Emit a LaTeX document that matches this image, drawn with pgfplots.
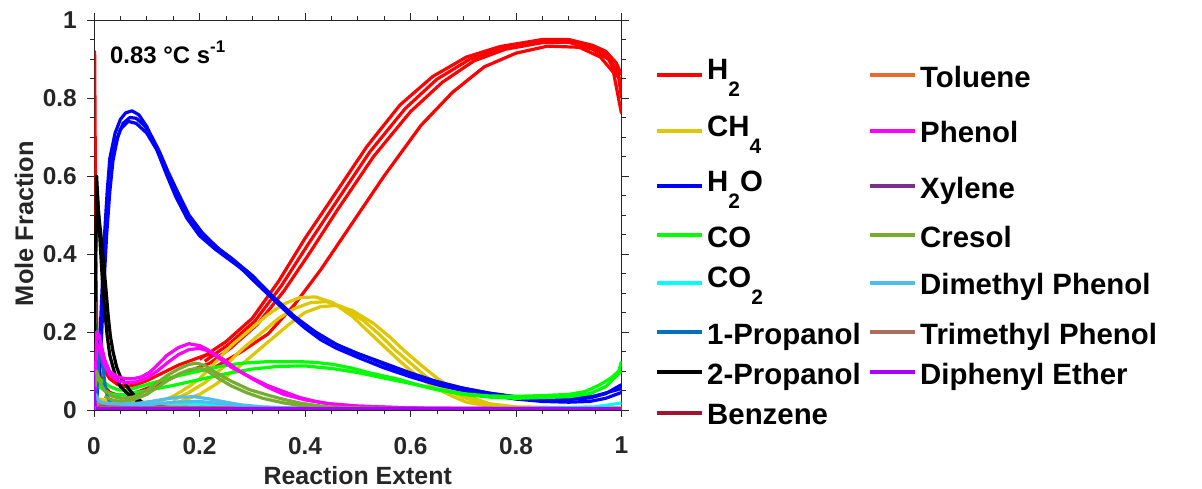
\documentclass[border=0pt]{standalone}
\usepackage{pgfplots}
\pgfplotsset{compat=1.18}
\usepackage{fontspec}
\setmainfont{Liberation Sans}
\definecolor{cH2}{RGB}{255,0,0}
\definecolor{cCH4}{RGB}{222,198,0}
\definecolor{cH2O}{RGB}{0,0,255}
\definecolor{cCO}{RGB}{0,255,0}
\definecolor{cCO2}{RGB}{0,255,255}
\definecolor{cOneP}{RGB}{0,114,189}
\definecolor{cTwoP}{RGB}{0,0,0}
\definecolor{cBenz}{RGB}{162,20,47}
\definecolor{cTol}{RGB}{232,108,50}
\definecolor{cPhen}{RGB}{255,0,255}
\definecolor{cXyl}{RGB}{126,47,142}
\definecolor{cCres}{RGB}{119,172,48}
\definecolor{cDMP}{RGB}{77,190,238}
\definecolor{cTMP}{RGB}{170,110,90}
\definecolor{cDPE}{RGB}{170,0,255}
\definecolor{axgray}{RGB}{38,38,38}
\newcommand{\sub}[1]{\raisebox{-16.5bp}{\fontsize{21}{21}\selectfont #1}}
\begin{document}
\begin{tikzpicture}
\useasboundingbox (0,0) rectangle (1202bp,489bp);
\begin{axis}[
  at={(94bp,79bp)}, anchor=south west,
  scale only axis, width=527.5bp, height=390bp,
  xmin=0, xmax=1, ymin=0, ymax=1,
  xtick={0,0.2,0.4,0.6,0.8,1}, xticklabels={0,0.2,0.4,0.6,0.8,1},
  ytick={0,0.2,0.4,0.6,0.8,1}, yticklabels={0,0.2,0.4,0.6,0.8,1},
  minor x tick num=3, minor y tick num=3,
  tick align=outside, major tick length=7bp, minor tick length=4bp,
  axis line style={axgray, line width=0.7bp},
  every tick/.style={axgray, line width=0.7bp},
  ticklabel style={font=\fontsize{24.5}{24.5}\selectfont\bfseries, text=axgray, inner sep=0pt},
  xticklabel style={anchor=north, yshift=-20bp},
  yticklabel style={anchor=east, xshift=-10bp},
  xlabel={Reaction Extent}, ylabel={Mole Fraction},
  xlabel style={font=\fontsize{25}{25}\selectfont\bfseries, text=axgray, at={(axis description cs:0.5,-0.192)}, anchor=base},
  ylabel style={font=\fontsize{25.5}{25.5}\selectfont\bfseries, text=axgray, at={(axis description cs:-0.1156,0.478)}, anchor=base},
  every axis plot/.append style={line width=3.2bp, line join=round, forget plot},
]
% ---------- H2 ----------
\addplot[cH2, line width=1.5bp] coordinates {(0.0015,0.25)(0.002,0.6)(0.0028,0.92)(0.0038,0.7)(0.005,0.4)(0.007,0.2)(0.01,0.13)};
\addplot[cH2] coordinates {(0.008,0.18)(0.012,0.13)(0.02,0.1)(0.03,0.08)(0.045,0.065)(0.06,0.06)(0.08,0.065)(0.1,0.075)(0.13,0.095)(0.16,0.115)(0.19,0.13)(0.21,0.14)(0.23,0.145)};
\addplot[cH2] coordinates {(0.008,0.12)(0.012,0.09)(0.02,0.06)(0.03,0.045)(0.045,0.038)(0.06,0.04)(0.08,0.045)(0.1,0.055)(0.13,0.07)(0.16,0.09)(0.19,0.105)(0.22,0.12)};
\addplot[cH2] coordinates {(0.2,0.13)(0.25,0.175)(0.3,0.235)(0.35,0.33)(0.4,0.44)(0.45,0.54)(0.517,0.675)(0.58,0.782)(0.642,0.855)(0.706,0.905)(0.77,0.932)(0.85,0.95)(0.9,0.95)(0.945,0.935)(0.97,0.92)(0.99,0.89)(1.0,0.86)};
\addplot[cH2] coordinates {(0.21,0.125)(0.255,0.168)(0.305,0.228)(0.355,0.318)(0.405,0.423)(0.455,0.525)(0.523,0.662)(0.59,0.773)(0.65,0.848)(0.713,0.9)(0.775,0.928)(0.85,0.946)(0.9,0.947)(0.945,0.93)(0.972,0.91)(0.992,0.87)(1.0,0.83)};
\addplot[cH2] coordinates {(0.22,0.12)(0.26,0.16)(0.31,0.22)(0.36,0.305)(0.41,0.405)(0.46,0.51)(0.53,0.65)(0.6,0.765)(0.66,0.84)(0.72,0.895)(0.78,0.925)(0.85,0.942)(0.9,0.943)(0.945,0.925)(0.975,0.9)(0.995,0.85)(1.0,0.8)};
\addplot[cH2] coordinates {(0.23,0.11)(0.28,0.15)(0.33,0.195)(0.38,0.27)(0.43,0.36)(0.48,0.46)(0.55,0.6)(0.62,0.73)(0.68,0.815)(0.74,0.88)(0.8,0.915)(0.86,0.933)(0.92,0.93)(0.96,0.905)(0.985,0.865)(1.0,0.76)};
% ---------- CH4 ----------
\addplot[cCH4] coordinates {(0,0.01)(0.003,0.05)(0.006,0.03)(0.02,0.025)(0.05,0.02)(0.1,0.02)(0.13,0.025)(0.15,0.035)(0.18,0.06)(0.2,0.08)(0.232,0.125)(0.26,0.165)(0.295,0.205)(0.33,0.245)(0.36,0.272)(0.39,0.288)(0.42,0.29)(0.453,0.275)(0.49,0.24)(0.517,0.205)(0.55,0.163)(0.58,0.125)(0.61,0.09)(0.642,0.06)(0.68,0.035)(0.706,0.02)(0.75,0.01)(0.8,0.006)(0.9,0.004)(1.0,0.006)};
\addplot[cCH4] coordinates {(0.15,0.025)(0.18,0.045)(0.21,0.07)(0.25,0.115)(0.28,0.155)(0.315,0.195)(0.35,0.235)(0.38,0.26)(0.41,0.275)(0.44,0.278)(0.47,0.265)(0.51,0.23)(0.54,0.195)(0.57,0.155)(0.6,0.12)(0.63,0.085)(0.66,0.057)(0.7,0.033)(0.73,0.018)(0.77,0.009)(0.82,0.005)(1,0.004)};
\addplot[cCH4] coordinates {(0.16,0.02)(0.2,0.04)(0.23,0.065)(0.27,0.105)(0.3,0.14)(0.335,0.18)(0.37,0.22)(0.4,0.25)(0.43,0.265)(0.46,0.268)(0.49,0.255)(0.53,0.222)(0.56,0.188)(0.59,0.15)(0.62,0.115)(0.65,0.082)(0.68,0.055)(0.72,0.03)(0.75,0.016)(0.8,0.008)(1,0.004)};
% ---------- H2O ----------
\addplot[cH2O] coordinates {(0.005,0.05)(0.01,0.15)(0.015,0.3)(0.02,0.45)(0.025,0.56)(0.03,0.645)(0.04,0.71)(0.05,0.745)(0.06,0.762)(0.072,0.767)(0.085,0.757)(0.1,0.727)(0.112,0.692)(0.125,0.647)(0.138,0.602)(0.155,0.547)(0.176,0.492)(0.2,0.447)(0.23,0.412)(0.26,0.382)(0.295,0.347)(0.327,0.302)(0.36,0.262)(0.39,0.227)(0.42,0.197)(0.453,0.172)(0.49,0.147)(0.517,0.135)(0.55,0.117)(0.58,0.1)(0.61,0.086)(0.642,0.073)(0.68,0.061)(0.706,0.054)(0.75,0.043)(0.8,0.033)(0.85,0.028)(0.9,0.027)(0.94,0.031)(0.97,0.042)(1.0,0.065)};
\addplot[cH2O] coordinates {(0.005,0.03)(0.012,0.12)(0.018,0.3)(0.024,0.45)(0.03,0.56)(0.036,0.64)(0.045,0.7)(0.055,0.735)(0.068,0.75)(0.08,0.748)(0.095,0.73)(0.11,0.7)(0.125,0.66)(0.14,0.612)(0.16,0.555)(0.18,0.5)(0.205,0.455)(0.235,0.415)(0.27,0.375)(0.3,0.335)(0.335,0.29)(0.37,0.245)(0.4,0.21)(0.43,0.18)(0.46,0.158)(0.5,0.135)(0.55,0.108)(0.6,0.085)(0.65,0.065)(0.7,0.05)(0.75,0.038)(0.8,0.028)(0.85,0.022)(0.9,0.02)(0.94,0.022)(0.97,0.03)(1.0,0.045)};
\addplot[cH2O] coordinates {(0.03,0.6)(0.04,0.68)(0.05,0.72)(0.065,0.74)(0.08,0.735)(0.1,0.71)(0.12,0.665)(0.14,0.6)(0.165,0.53)(0.19,0.47)(0.22,0.43)(0.26,0.39)(0.3,0.345)(0.34,0.29)(0.38,0.24)(0.42,0.2)(0.46,0.168)(0.5,0.145)(0.55,0.12)(0.6,0.095)(0.65,0.073)(0.7,0.056)(0.75,0.043)(0.8,0.034)(0.85,0.03)(0.9,0.03)(0.95,0.036)(1.0,0.055)};
% ---------- CO ----------
\addplot[cCO] coordinates {(0.001,0.02)(0.0025,0.22)(0.004,0.15)(0.006,0.1)(0.01,0.08)(0.02,0.07)(0.03,0.06)(0.045,0.052)(0.06,0.05)(0.1,0.065)(0.15,0.085)(0.2,0.1)(0.24,0.112)(0.28,0.12)(0.33,0.124)(0.39,0.124)(0.42,0.122)(0.453,0.117)(0.49,0.107)(0.517,0.097)(0.55,0.087)(0.58,0.078)(0.61,0.066)(0.642,0.056)(0.68,0.046)(0.706,0.041)(0.75,0.036)(0.8,0.035)(0.85,0.037)(0.9,0.04)(0.93,0.047)(0.958,0.064)(0.98,0.082)(0.995,0.1)(1.0,0.125)};
\addplot[cCO] coordinates {(0.006,0.07)(0.01,0.06)(0.02,0.05)(0.03,0.042)(0.045,0.038)(0.06,0.04)(0.1,0.05)(0.15,0.063)(0.2,0.078)(0.25,0.093)(0.3,0.105)(0.35,0.112)(0.4,0.113)(0.453,0.106)(0.5,0.096)(0.55,0.082)(0.6,0.068)(0.65,0.052)(0.7,0.04)(0.75,0.033)(0.8,0.03)(0.85,0.032)(0.9,0.034)(0.94,0.042)(0.97,0.06)(1.0,0.1)};
% ---------- CO2 ----------
\addplot[cCO2] coordinates {(0,0.01)(0.003,0.05)(0.006,0.02)(0.02,0.012)(0.05,0.01)(0.1,0.012)(0.15,0.016)(0.2,0.015)(0.25,0.011)(0.3,0.007)(0.4,0.004)(0.6,0.003)(0.8,0.004)(0.95,0.008)(1.0,0.018)};
% ---------- 1-Propanol ----------
\addplot[cOneP] coordinates {(0.004,0.02)(0.008,0.1)(0.011,0.17)(0.014,0.15)(0.018,0.1)(0.022,0.05)(0.03,0.02)(0.05,0.006)(0.1,0.002)(1,0.001)};
% ---------- 2-Propanol ----------
\addplot[cTwoP] coordinates {(0.001,0.1)(0.003,0.4)(0.006,0.55)(0.009,0.5)(0.013,0.45)(0.018,0.38)(0.022,0.32)(0.027,0.24)(0.031,0.19)(0.036,0.15)(0.043,0.11)(0.05,0.085)(0.06,0.065)(0.068,0.05)(0.08,0.032)(0.093,0.018)(0.11,0.01)(0.15,0.005)(0.2,0.002)(1,0.001)};
\addplot[cTwoP] coordinates {(0.002,0.3)(0.005,0.6)(0.008,0.52)(0.012,0.42)(0.016,0.33)(0.02,0.26)(0.025,0.19)(0.03,0.14)(0.04,0.09)(0.05,0.06)(0.065,0.04)(0.08,0.025)(0.1,0.012)(0.15,0.004)};
% ---------- Benzene ----------
\addplot[cBenz] coordinates {(0,0.002)(0.01,0.01)(0.05,0.005)(0.2,0.004)(0.5,0.002)(1,0.003)};
% ---------- Toluene ----------
\addplot[cTol] coordinates {(0,0.003)(0.01,0.02)(0.05,0.008)(0.15,0.008)(0.2,0.007)(0.3,0.005)(0.5,0.002)(1,0.002)};
% ---------- Phenol ----------
\addplot[cPhen] coordinates {(0.002,0.05)(0.005,0.2)(0.01,0.19)(0.015,0.16)(0.02,0.13)(0.03,0.098)(0.045,0.085)(0.06,0.08)(0.074,0.08)(0.09,0.085)(0.106,0.097)(0.12,0.115)(0.138,0.14)(0.16,0.16)(0.18,0.17)(0.2,0.165)(0.215,0.155)(0.232,0.138)(0.26,0.11)(0.295,0.085)(0.33,0.062)(0.358,0.048)(0.39,0.032)(0.42,0.022)(0.45,0.015)(0.5,0.01)(0.6,0.005)(0.8,0.003)(1,0.003)};
\addplot[cPhen] coordinates {(0.005,0.17)(0.01,0.16)(0.02,0.115)(0.03,0.09)(0.045,0.075)(0.06,0.07)(0.08,0.072)(0.1,0.082)(0.12,0.1)(0.14,0.122)(0.16,0.142)(0.18,0.155)(0.2,0.158)(0.22,0.15)(0.245,0.13)(0.27,0.105)(0.3,0.08)(0.33,0.058)(0.36,0.04)(0.4,0.026)(0.44,0.017)(0.5,0.01)(0.6,0.005)(1,0.003)};
% ---------- Xylene ----------
\addplot[cXyl] coordinates {(0,0.002)(0.01,0.005)(0.1,0.003)(1,0.002)};
% ---------- Cresol ----------
\addplot[cCres] coordinates {(0.002,0.06)(0.005,0.1)(0.01,0.075)(0.02,0.05)(0.035,0.035)(0.05,0.03)(0.074,0.033)(0.1,0.05)(0.12,0.07)(0.138,0.088)(0.16,0.105)(0.18,0.117)(0.195,0.12)(0.21,0.114)(0.232,0.095)(0.26,0.074)(0.295,0.052)(0.33,0.038)(0.36,0.027)(0.39,0.018)(0.42,0.012)(0.45,0.007)(0.6,0.003)(1,0.002)};
\addplot[cCres] coordinates {(0.02,0.035)(0.035,0.025)(0.05,0.022)(0.074,0.026)(0.1,0.04)(0.12,0.058)(0.14,0.076)(0.16,0.092)(0.18,0.103)(0.2,0.108)(0.215,0.1)(0.235,0.082)(0.26,0.062)(0.29,0.044)(0.32,0.03)(0.36,0.018)(0.4,0.01)(0.5,0.004)(1,0.002)};
% ---------- Dimethyl Phenol ----------
\addplot[cDMP] coordinates {(0,0.01)(0.003,0.04)(0.006,0.03)(0.01,0.022)(0.02,0.018)(0.05,0.015)(0.08,0.017)(0.1,0.02)(0.13,0.027)(0.16,0.033)(0.19,0.034)(0.22,0.028)(0.25,0.02)(0.28,0.013)(0.32,0.008)(0.4,0.004)(0.6,0.002)(1,0.002)};
\addplot[cDMP] coordinates {(0.05,0.01)(0.1,0.013)(0.15,0.02)(0.2,0.022)(0.25,0.015)(0.3,0.008)(0.4,0.003)};
% ---------- Trimethyl Phenol ----------
\addplot[cTMP] coordinates {(0,0.002)(0.01,0.008)(0.1,0.005)(0.2,0.005)(0.3,0.003)(1,0.002)};
% ---------- Diphenyl Ether ----------
\addplot[cDPE, line width=1.5bp] coordinates {(0.0005,0)(0.0008,0.1)(0.0015,0.05)(0.004,0.01)};
\addplot[cDPE, line width=4bp] coordinates {(0.004,0.004)(0.01,0.003)(0.05,0.003)(1,0.003)};
% ---------- annotation ----------
\node[anchor=base west, font=\fontsize{24}{24}\selectfont\bfseries, inner sep=0pt] at (axis description cs:0.0303,0.8897) {0.83 °C s\raisebox{0.42em}{\fontsize{17}{17}\selectfont -1}};
\end{axis}
% ---------- legend (picture coordinates in bp) ----------
\begin{scope}[every node/.style={anchor=base west, inner sep=0pt, font=\fontsize{29.5}{29.5}\selectfont\bfseries}]
\foreach \c/\y in {cH2/414, cCH4/358, cH2O/303, cCO/254, cCO2/206, cOneP/157, cTwoP/117, cBenz/76}
  {\draw[\c, line width=4bp] (657bp,\y bp) -- (702bp,\y bp);}
\foreach \c/\y in {cTol/414, cPhen/358, cXyl/303, cCres/254, cDMP/206, cTMP/157, cDPE/117}
  {\draw[\c, line width=4bp] (870bp,\y bp) -- (915bp,\y bp);}
\node at (707bp,409bp) {H\sub{2}};
\node at (707bp,352bp) {CH\sub{4}};
\node at (707bp,297bp) {H\sub{2}O};
\node at (707bp,241bp) {CO};
\node at (707bp,201bp) {CO\sub{2}};
\node at (707bp,144bp) {1-Propanol};
\node at (707bp,104bp) {2-Propanol};
\node at (707bp,64bp) {Benzene};
\node at (920bp,401bp) {Toluene};
\node at (920bp,346bp) {Phenol};
\node at (920bp,290bp) {Xylene};
\node at (920bp,241bp) {Cresol};
\node at (920bp,194bp) {Dimethyl Phenol};
\node at (920bp,144bp) {Trimethyl Phenol};
\node at (920bp,104bp) {Diphenyl Ether};
\end{scope}
\end{tikzpicture}
\end{document}
